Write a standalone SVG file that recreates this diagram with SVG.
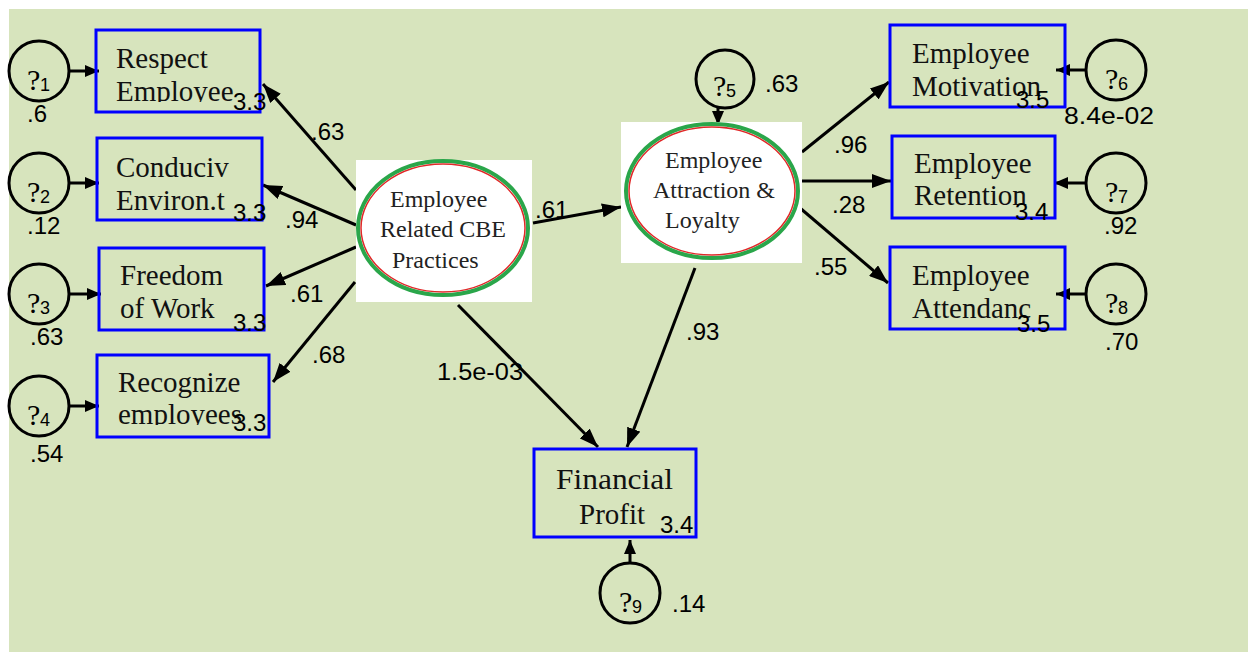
<svg xmlns="http://www.w3.org/2000/svg" width="1248" height="652" viewBox="0 0 1248 652">
  <style>
    .box { fill: none; stroke: #0000ff; stroke-width: 3; }
    .err { fill: none; stroke: #000; stroke-width: 3; }
    .lbl { font-family: "Times New Roman", "Liberation Serif", serif; font-size: 29px; fill: #111; }
    .lat { font-family: "Times New Roman", "Liberation Serif", serif; font-size: 24px; fill: #222; }
    .num { font-family: Arial, "Liberation Sans", sans-serif; font-size: 24px; fill: #000; }
    .q { font-family: "Times New Roman", "Liberation Serif", serif; font-size: 30px; fill: #000; }
    .sub { font-family: Arial, "Liberation Sans", sans-serif; font-size: 18px; fill: #000; }
    .path { fill: none; stroke: #000; stroke-width: 3; }
  </style>
  <defs>
    <marker id="arr" markerUnits="userSpaceOnUse" markerWidth="20" markerHeight="14" refX="19" refY="7" orient="auto">
      <path d="M0,0 L19,7 L0,14 Z" fill="#000"/>
    </marker>
    <marker id="arrS" markerUnits="userSpaceOnUse" markerWidth="15" markerHeight="12" refX="14" refY="6" orient="auto">
      <path d="M0,0 L14,6 L0,12 Z" fill="#000"/>
    </marker>
    <clipPath id="c1"><rect x="95" y="29" width="166" height="73"/></clipPath>
    <clipPath id="c2"><rect x="97" y="138" width="166" height="74"/></clipPath>
    <clipPath id="c4"><rect x="97" y="355" width="173" height="70"/></clipPath>
    <clipPath id="c6"><rect x="889" y="24" width="177" height="73"/></clipPath>
    <clipPath id="c7"><rect x="892" y="135" width="163" height="71"/></clipPath>
    <clipPath id="c9"><rect x="533" y="448" width="164" height="78"/></clipPath>
  </defs>

  <!-- background panel -->
  <rect x="0" y="0" width="1248" height="652" fill="#ffffff"/>
  <rect x="9" y="9" width="1239" height="643" fill="#d7e4bd"/>

  <!-- connectors -->
  <g id="connectors">
    <path class="path" d="M356,190 L263,84" marker-end="url(#arr)"/>
    <path class="path" d="M356,225 L263,185" marker-end="url(#arr)"/>
    <path class="path" d="M356,247 L266,286" marker-end="url(#arr)"/>
    <path class="path" d="M355,282 L273,382" marker-end="url(#arr)"/>
    <path class="path" d="M533,223 L621,207" marker-end="url(#arr)"/>
    <path class="path" d="M458,305 L598,447" marker-end="url(#arr)"/>
    <path class="path" d="M695,268 L627,447" marker-end="url(#arr)"/>
    <path class="path" d="M802,152 L889,82" marker-end="url(#arr)"/>
    <path class="path" d="M802,181 L891,181" marker-end="url(#arr)"/>
    <path class="path" d="M800,208 L888,283" marker-end="url(#arr)"/>
    <path class="path" d="M69,71 L99,71" marker-end="url(#arrS)"/>
    <path class="path" d="M69,183 L99,183" marker-end="url(#arrS)"/>
    <path class="path" d="M69,294 L101,294" marker-end="url(#arrS)"/>
    <path class="path" d="M69,406 L99,406" marker-end="url(#arrS)"/>
    <path class="path" d="M718,108 L718,125" marker-end="url(#arrS)"/>
    <path class="path" d="M1086,70 L1056,70" marker-end="url(#arrS)"/>
    <path class="path" d="M1086,183 L1054,183" marker-end="url(#arrS)"/>
    <path class="path" d="M1087,294 L1056,294" marker-end="url(#arrS)"/>
    <path class="path" d="M630,564 L630,540" marker-end="url(#arrS)"/>
    <!-- path coefficients -->
    <text class="num" x="311" y="140">.63</text>
    <text class="num" x="285" y="228">.94</text>
    <text class="num" x="290" y="302">.61</text>
    <text class="num" x="312" y="363">.68</text>
    <text class="num" x="535" y="218">.61</text>
    <text class="num" x="437" y="380" textLength="86" lengthAdjust="spacingAndGlyphs">1.5e-03</text>
    <text class="num" x="686" y="340">.93</text>
    <text class="num" x="834" y="153">.96</text>
    <text class="num" x="832" y="213">.28</text>
    <text class="num" x="814" y="275">.55</text>
  </g>

  <!-- latent constructs -->
  <g id="cbe">
    <rect x="356" y="160" width="176" height="142" fill="#ffffff"/>
    <ellipse cx="443" cy="228" rx="85" ry="67" fill="#fff" stroke="#2aa64a" stroke-width="4"/>
    <ellipse cx="443" cy="228" rx="82" ry="64" fill="none" stroke="#e02828" stroke-width="1.5"/>
    <text class="lat" x="390" y="207">Employee</text>
    <text class="lat" x="380" y="237">Related CBE</text>
    <text class="lat" x="392" y="268">Practices</text>
  </g>
  <g id="attraction">
    <rect x="621" y="122" width="181" height="141" fill="#ffffff"/>
    <ellipse cx="712" cy="191" rx="86" ry="67" fill="#fff" stroke="#2aa64a" stroke-width="4"/>
    <ellipse cx="712" cy="191" rx="83" ry="64" fill="none" stroke="#e02828" stroke-width="1.5"/>
    <text class="lat" x="665" y="168">Employee</text>
    <text class="lat" x="653" y="198">Attraction &amp;</text>
    <text class="lat" x="665" y="228">Loyalty</text>
  </g>

  <!-- observed indicators -->
  <g id="respect">
    <rect class="box" x="96" y="30" width="164" height="82"/>
    <text class="lbl" x="116" y="68">Respect</text>
    <text class="lbl" x="116" y="101" clip-path="url(#c1)">Employee</text>
    <text class="num" x="233" y="110">3.3</text>
  </g>
  <g id="conducive">
    <rect class="box" x="97" y="138" width="165" height="82"/>
    <text class="lbl" x="116" y="177">Conduciv</text>
    <text class="lbl" x="116" y="210" clip-path="url(#c2)">Environ.t</text>
    <text class="num" x="233" y="221">3.3</text>
  </g>
  <g id="freedom">
    <rect class="box" x="99" y="248" width="165" height="82"/>
    <text class="lbl" x="120" y="285">Freedom</text>
    <text class="lbl" x="120" y="318">of Work</text>
    <text class="num" x="233" y="331">3.3</text>
  </g>
  <g id="recognize">
    <rect class="box" x="97" y="355" width="172" height="82"/>
    <text class="lbl" x="118" y="392">Recognize</text>
    <text class="lbl" x="118" y="424" clip-path="url(#c4)">employees</text>
    <text class="num" x="233" y="431">3.3</text>
  </g>
  <g id="motivation">
    <rect class="box" x="890" y="25" width="175" height="82"/>
    <text class="lbl" x="912" y="63">Employee</text>
    <text class="lbl" x="912" y="96" clip-path="url(#c6)">Motivation</text>
    <text class="num" x="1016" y="108">3.5</text>
  </g>
  <g id="retention">
    <rect class="box" x="892" y="136" width="163" height="82"/>
    <text class="lbl" x="914" y="173">Employee</text>
    <text class="lbl" x="914" y="205" clip-path="url(#c7)">Retention</text>
    <text class="num" x="1015" y="220">3.4</text>
  </g>
  <g id="attendance">
    <rect class="box" x="890" y="247" width="175" height="82"/>
    <text class="lbl" x="912" y="285">Employee</text>
    <text class="lbl" x="912" y="318">Attendanc</text>
    <text class="num" x="1017" y="332">3.5</text>
  </g>
  <g id="profit">
    <rect class="box" x="534" y="449" width="162" height="88"/>
    <text class="lbl" x="556" y="489" textLength="117" lengthAdjust="spacingAndGlyphs">Financial</text>
    <text class="lbl" x="579" y="524" clip-path="url(#c9)">Profit</text>
    <text class="num" x="660" y="533">3.4</text>
  </g>

  <!-- error terms -->
  <g id="e1">
    <circle class="err" cx="39" cy="71" r="30"/>
    <text class="q" x="27" y="90">?</text><text class="sub" x="40" y="91">1</text>
    <text class="num" x="27" y="122">.6</text>
  </g>
  <g id="e2">
    <circle class="err" cx="39" cy="183" r="30"/>
    <text class="q" x="27" y="202">?</text><text class="sub" x="40" y="203">2</text>
    <text class="num" x="27" y="234">.12</text>
  </g>
  <g id="e3">
    <circle class="err" cx="39" cy="294" r="30"/>
    <text class="q" x="27" y="313">?</text><text class="sub" x="40" y="314">3</text>
    <text class="num" x="30" y="345">.63</text>
  </g>
  <g id="e4">
    <circle class="err" cx="39" cy="406" r="30"/>
    <text class="q" x="27" y="425">?</text><text class="sub" x="40" y="426">4</text>
    <text class="num" x="30" y="462">.54</text>
  </g>
  <g id="e5">
    <circle class="err" cx="725" cy="79" r="29"/>
    <text class="q" x="713" y="96">?</text><text class="sub" x="726" y="97">5</text>
    <text class="num" x="765" y="92">.63</text>
  </g>
  <g id="e6">
    <circle class="err" cx="1116" cy="70" r="30"/>
    <text class="q" x="1105" y="89">?</text><text class="sub" x="1118" y="90">6</text>
    <text class="num" x="1064" y="124" textLength="90" lengthAdjust="spacingAndGlyphs">8.4e-02</text>
  </g>
  <g id="e7">
    <circle class="err" cx="1116" cy="183" r="30"/>
    <text class="q" x="1105" y="202">?</text><text class="sub" x="1118" y="203">7</text>
    <text class="num" x="1104" y="234">.92</text>
  </g>
  <g id="e8">
    <circle class="err" cx="1116" cy="294" r="30"/>
    <text class="q" x="1105" y="313">?</text><text class="sub" x="1118" y="314">8</text>
    <text class="num" x="1105" y="350">.70</text>
  </g>
  <g id="e9">
    <circle class="err" cx="630" cy="593" r="30"/>
    <text class="q" x="619" y="612">?</text><text class="sub" x="632" y="613">9</text>
    <text class="num" x="672" y="612">.14</text>
  </g>
</svg>
